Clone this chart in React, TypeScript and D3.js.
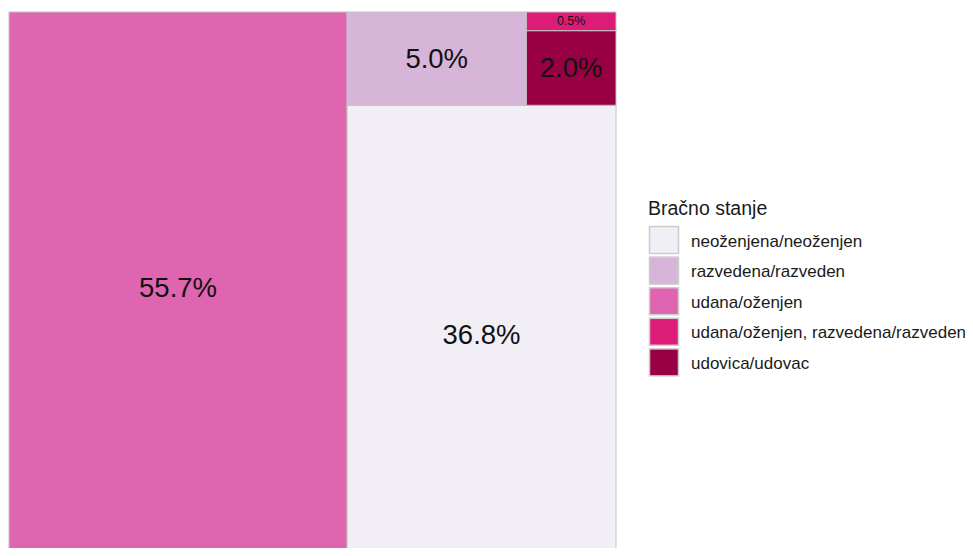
import * as d3 from 'd3';
import { useEffect, useRef } from 'react';

const width = 973;
const height = 556;
const box = { left: 9, top: 12, width: 607, height: 551 };

const categories = [
  'neoženjena/neoženjen',
  'razvedena/razveden',
  'udana/oženjen',
  'udana/oženjen, razvedena/razveden',
  'udovica/udovac',
];
const shares = [36.8, 5.0, 55.7, 0.5, 2.0];
const colors = ['#f1eef6', '#d7b5d8', '#df65b0', '#dd1c77', '#980043'];
const legendTitle = 'Bračno stanje';

type Leaf = { name: string; value: number };

function Treemap() {
  const svgRef = useRef<SVGSVGElement>(null);

  useEffect(() => {
    const svg = d3.select(svgRef.current);
    svg.selectAll('*').remove();

    const color = d3.scaleOrdinal<string, string>().domain(categories).range(colors);

    const data: Leaf[] = categories.map((name, i) => ({ name, value: shares[i] }));
    const root = d3
      .hierarchy<any>({ children: data })
      .sum((d) => d.value || 0)
      .sort((a, b) => (b.value || 0) - (a.value || 0));

    // plain squarify (ratio 1), like treemapify
    d3.treemap<any>().tile(d3.treemapSquarify.ratio(1)).size([box.width, box.height])(root);

    // treemapify grows upward from the bottom, so flip the y axis
    const y = d3.scaleLinear().domain([0, box.height]).range([box.top + box.height, box.top]);
    const x = d3.scaleLinear().domain([0, box.width]).range([box.left, box.left + box.width]);

    const leaves = root.leaves() as d3.HierarchyRectangularNode<Leaf>[];

    const cell = svg.append('g').selectAll('g').data(leaves).join('g');

    cell
      .append('rect')
      .attr('x', (d) => x(d.x0))
      .attr('y', (d) => y(d.y1))
      .attr('width', (d) => x(d.x1) - x(d.x0))
      .attr('height', (d) => y(d.y0) - y(d.y1))
      .attr('fill', (d) => color(d.data.name))
      .attr('stroke', '#c4c4c4')
      .attr('stroke-width', 1);

    cell
      .append('text')
      .attr('x', (d) => (x(d.x0) + x(d.x1)) / 2)
      .attr('y', (d) => (y(d.y0) + y(d.y1)) / 2)
      .attr('text-anchor', 'middle')
      .attr('dominant-baseline', 'central')
      .attr('font-family', 'Liberation Sans, Arial, sans-serif')
      .attr('font-size', (d) => (y(d.y0) - y(d.y1) < 30 ? 12.5 : 27.5))
      .attr('fill', '#111')
      .text((d) => `${d.data.value.toFixed(1)}%`);

    const legend = svg.append('g').attr('transform', 'translate(649, 0)');
    legend
      .append('text')
      .attr('x', -1)
      .attr('y', 208)
      .attr('dominant-baseline', 'central')
      .attr('font-family', 'Liberation Sans, Arial, sans-serif')
      .attr('font-size', 19.5)
      .attr('fill', '#1a1a1a')
      .text(legendTitle);

    const key = legend
      .selectAll('g.key')
      .data(categories)
      .join('g')
      .attr('class', 'key')
      .attr('transform', (_, i) => `translate(0, ${226 + i * 30.6})`);

    key
      .append('rect')
      .attr('x', 0.5)
      .attr('y', 0.5)
      .attr('width', 29)
      .attr('height', 27)
      .attr('fill', (d) => color(d))
      .attr('stroke', '#cccccc')
      .attr('stroke-width', 1.5);

    key
      .append('text')
      .attr('x', 42)
      .attr('y', 15)
      .attr('dominant-baseline', 'central')
      .attr('font-family', 'Liberation Sans, Arial, sans-serif')
      .attr('font-size', 17)
      .attr('fill', '#1a1a1a')
      .text((d) => d);
  }, []);

  return <svg ref={svgRef} width={width} height={height} style={{ display: 'block' }} />;
}

export default function App() {
  return (
    <div style={{ margin: -8 }}>
      <Treemap />
    </div>
  );
}
